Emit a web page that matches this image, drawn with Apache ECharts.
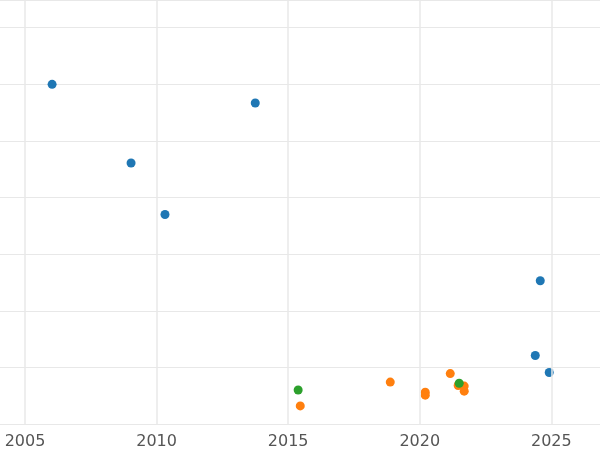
<!DOCTYPE html><html><head><meta charset="utf-8"><script src="https://cdn.jsdelivr.net/npm/echarts@6/dist/echarts.min.js"></script></head><body style="margin:0"><div id="c" style="width:600px;height:450px"></div><script>
const xTicks=[2005,2010,2015,2020,2025];
const blue=[[2006.03,6.0],[2009.03,4.61],[2010.32,3.70],[2013.75,5.67],[2024.58,2.53],[2024.39,1.21],[2024.92,0.91]];
const orange=[[2015.46,0.32],[2018.88,0.74],[2020.21,0.56],[2020.21,0.51],[2021.16,0.89],[2021.46,0.68],[2021.69,0.67],[2021.69,0.58]];
const green=[[2015.38,0.60],[2021.5,0.72]];
const ch=echarts.init(document.getElementById('c'));
const s=(d,c)=>({type:'scatter',data:d,symbolSize:9,itemStyle:{color:c,opacity:1},z:3});
const grid={type:'scatter',data:[],z:1,markLine:{silent:true,symbol:'none',label:{show:false},animation:false,
 lineStyle:{color:'#e8e8e8',width:1.5,type:'solid'},data:xTicks.map(v=>({xAxis:v}))}};
ch.setOption({animation:false,grid:{left:0,right:0,top:0,bottom:21},
xAxis:{type:'value',min:2004.05,max:2026.85,axisLine:{show:false},axisTick:{show:false},
axisLabel:{color:'#555',fontSize:16,margin:10,fontFamily:'DejaVu Sans',customValues:xTicks,formatter:v=>String(v)},
splitLine:{show:false}},
yAxis:{type:'value',min:0,max:7.49,interval:1,axisLine:{show:false},axisTick:{show:false},axisLabel:{show:false},splitLine:{lineStyle:{color:'#e8e8e8',width:1}}},
series:[grid,s(blue,'#1f77b4'),s(orange,'#ff7f0e'),s(green,'#2ca02c')]});
</script></body></html>
